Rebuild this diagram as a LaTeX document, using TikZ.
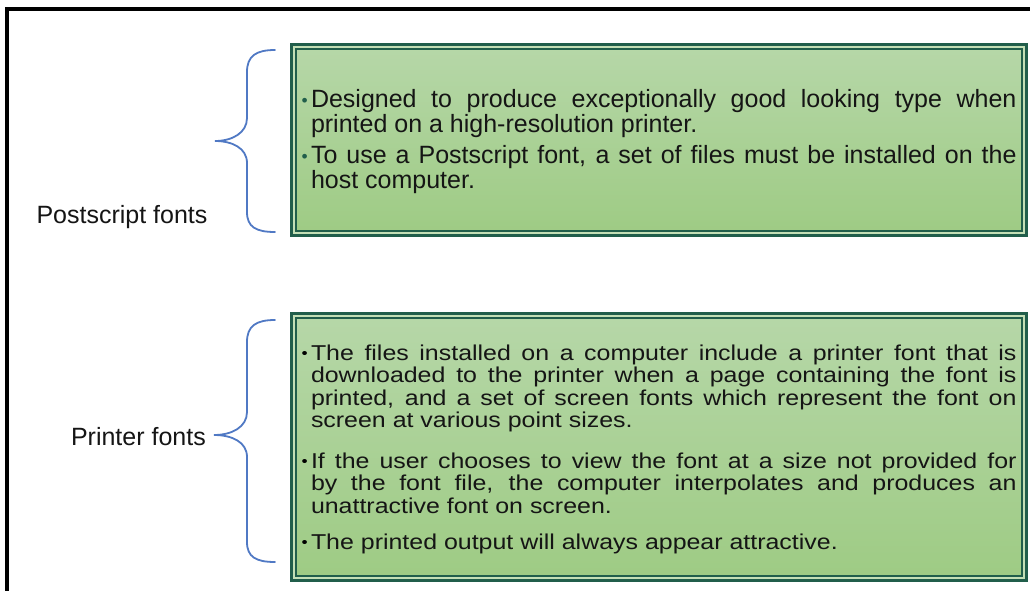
\documentclass[tikz,border=0pt]{standalone}
\usepackage{fontspec}
\setmainfont{Liberation Sans}
\newfontfamily\widefont{Liberation Sans}[FakeStretch=1.16]

\definecolor{boxedge}{HTML}{215E4B}
\definecolor{boxtop}{HTML}{B6D7A8}
\definecolor{boxbottom}{HTML}{9ECB84}
\definecolor{boxinner}{HTML}{C4DFB6}
\definecolor{bracecol}{HTML}{5079C4}
\definecolor{txtcol}{HTML}{151515}

% fonts for the two boxes (fixed line pitch)
\newcommand\boxfont{\fontsize{25}{25}\selectfont\lineskiplimit-30pt\relax}
\newcommand\tightfont{\widefont\fontsize{21.5}{22.5}\selectfont\lineskiplimit-30pt\relax}

% one bullet paragraph with hanging indent
\newcommand\dotcol{black}
\newcommand\fontbullet[1]{\hangindent=9.5pt\hangafter=1\noindent\makebox[9.5pt][l]{\textcolor{\dotcol}{\raisebox{1.5pt}{\scalebox{0.7}{•}}}}#1\par}

\tikzset{
    infobox/.style={draw=boxedge, line width=7pt, top color=boxtop, bottom color=boxbottom,
        minimum width=731pt, inner xsep=8pt, inner ysep=0pt, text=txtcol},
    innerline/.style={draw=boxinner, line width=1.2pt},
    bracket/.style={draw=bracecol, line width=1.8pt, line cap=round},
    sidelabel/.style={text=txtcol, font=\fontsize{25}{30}\selectfont, inner sep=0pt}
}

\begin{document}
\begin{tikzpicture}[x=1pt, y=-1pt]
    \useasboundingbox (0,0) rectangle (1030,591);
    \fill[white] (0,0) rectangle (1030,591);
    \draw[line width=4pt] (7,591) -- (7,9) -- (1030,9);

    % upper box
    \node[infobox, minimum height=187pt] (psbox) at (659,140) {\parbox{715pt}{\boxfont
        \renewcommand\dotcol{boxedge}%
        \vspace*{4pt}
        \fontbullet{Designed to produce exceptionally good looking type when\linebreak printed on a high-resolution printer.}
        \vspace{6pt}
        \fontbullet{To use a Postscript font, a set of files must be installed on the\linebreak host computer.}}};
    \draw[innerline] ([shift={(4,4)}]psbox.north west) rectangle ([shift={(-4,-4)}]psbox.south east);

    % lower box
    \node[infobox, minimum height=263pt] (prbox) at (659,447) {\parbox{715pt}{\tightfont
        \vspace*{4pt}
        \fontbullet{The files installed on a computer include a printer font that is\linebreak downloaded to the printer when a page containing the font is\linebreak printed, and a set of screen fonts which represent the font on\linebreak screen at various point sizes.}
        \vspace{18pt}
        \fontbullet{If the user chooses to view the font at a size not provided for\linebreak by the font file, the computer interpolates and produces an\linebreak unattractive font on screen.}
        \vspace{13.5pt}
        \fontbullet{The printed output will always appear attractive.}}};
    \draw[innerline] ([shift={(4,4)}]prbox.north west) rectangle ([shift={(-4,-4)}]prbox.south east);

    % braces
    \draw[bracket] (275,50) .. controls (256,50) and (247,56) .. (247,72) -- (247,118)
        .. controls (247,133) and (232,141) .. (215,141)
        .. controls (232,141) and (247,148) .. (247,163) -- (247,212)
        .. controls (247,227) and (256,232) .. (275,232);
    \draw[bracket] (275,320) .. controls (256,320) and (247,326) .. (247,342) -- (247,412)
        .. controls (247,427) and (232,435) .. (214,435)
        .. controls (232,435) and (247,442) .. (247,457) -- (247,542)
        .. controls (247,557) and (256,562) .. (275,562);

    % labels
    \node[sidelabel] (pslabel) at (122,217) {Postscript fonts};
    \node[sidelabel, anchor=east] (prlabel) at (206,437) {Printer fonts};
\end{tikzpicture}
\end{document}
